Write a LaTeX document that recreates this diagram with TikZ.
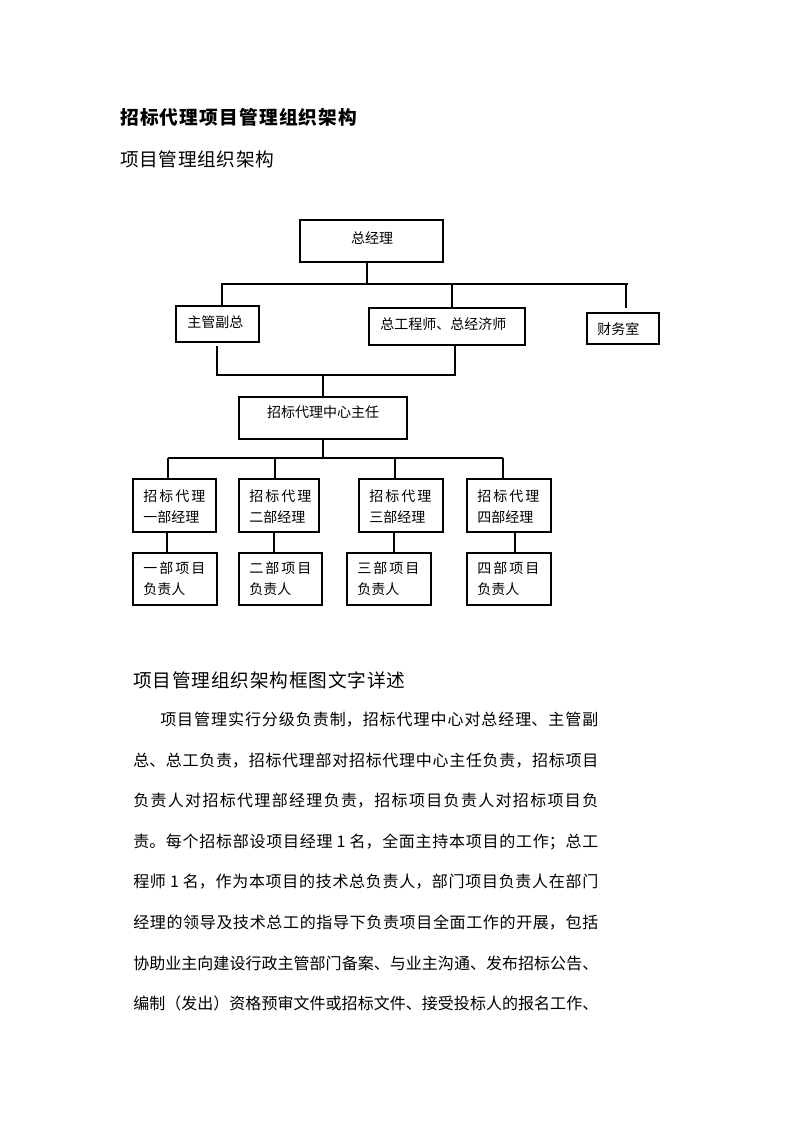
\documentclass[tikz,border=0pt]{standalone}
\usepackage{fontspec}
\setmainfont{Noto Sans CJK SC}
\XeTeXlinebreaklocale "zh"
\XeTeXlinebreakskip=0pt plus 2pt minus 0.5pt
\tolerance=10000
\tikzset{
  boxs/.style={draw, line width=0.8pt, inner sep=0pt, rectangle},
  conn/.style={draw, line width=0.8pt},
  txt/.style={inner sep=0pt, font=\fontsize{10.5pt}{15pt}\selectfont},
  twoline/.style={inner sep=0pt, anchor=north west, align=justify, text width=46.5pt, font=\fontsize{10.5pt}{15.5pt}\selectfont},
  bodyl/.style={inner sep=0pt, anchor=west, align=justify, font=\fontsize{12pt}{14pt}\selectfont},
  headl/.style={inner sep=0pt, anchor=west, align=justify, font=\fontsize{14pt}{16pt}\selectfont}
}
\newcommand\mybox[5]{\node[boxs, minimum width={(#4-#2)*0.75pt}, minimum height={(#5-#3)*0.75pt}] (#1) at ({(#2+#4)/2},{(#3+#5)/2}) {};}
\newcommand\jline{\parindent0pt\parfillskip0pt\relax}
\begin{document}
\begin{tikzpicture}[x=0.75pt,y=-0.75pt]
\useasboundingbox[fill=white] (0,0) rectangle (793,1122);

% titles
\node[headl, text width=177.75pt, font=\fontsize{14pt}{16pt}\selectfont\bfseries] (title) at (120,117) {\jline 招标代理项目管理组织架构\par};
\node[headl, text width=115.5pt] (subtitle) at (120,159) {\jline 项目管理组织架构\par};

% boxes
\mybox{zjl}{300}{220}{443}{262}
\mybox{fz}{176}{306}{259}{342}
\mybox{zgcs}{369}{308}{525}{345}
\mybox{cws}{587}{313}{659}{344}
\mybox{zr}{239}{397}{407}{439}
\mybox{m1}{133}{479}{216}{532}
\mybox{m2}{239}{479}{319}{532}
\mybox{m3}{359}{479}{443}{532}
\mybox{m4}{467}{479}{551}{532}
\mybox{p1}{133}{553}{217}{605}
\mybox{p2}{239}{553}{322}{605}
\mybox{p3}{347}{553}{431}{605}
\mybox{p4}{467}{553}{551}{605}

% box texts
\node[txt] (tzjl) at (372,238) {总经理};
\node[txt, anchor=west] (tfz) at (187,322) {主管副总};
\node[txt, anchor=west] (tzgcs) at (380,324) {总工程师、总经济师};
\node[txt, anchor=west] (tcws) at (597,329) {财务室};
\node[txt] (tzr) at (323,412) {招标代理中心主任};

\node[twoline] (tm1) at (143,489.5) {招标代理一部经理};
\node[twoline] (tm2) at (249,489.5) {招标代理二部经理};
\node[twoline] (tm3) at (369,489.5) {招标代理三部经理};
\node[twoline] (tm4) at (477,489.5) {招标代理四部经理};

\node[twoline] (tp1) at (143,561.5) {一部项目负责人};
\node[twoline] (tp2) at (249,561.5) {二部项目负责人};
\node[twoline] (tp3) at (357,561.5) {三部项目负责人};
\node[twoline] (tp4) at (477,561.5) {四部项目负责人};

% connectors, top level
\coordinate (j0) at (367,284);
\coordinate (barL) at (221,284);
\coordinate (barR) at (628,284);
\coordinate (b1) at (222,284);
\coordinate (b2) at (452,284);
\coordinate (b3) at (626,284);
\draw[conn] (j0 |- zjl.south) -- (j0);
\draw[conn] (barL) -- (barR);
\draw[conn] (b1) -- (b1 |- fz.north);
\draw[conn] (b2) -- (b2 |- zgcs.north);
\draw[conn, shorten >=3pt] (b3) -- (b3 |- cws.north);

% middle
\coordinate (mL) at (217,375);
\coordinate (mR) at (455,375);
\coordinate (mC) at (323,375);
\draw[conn, shorten <=2.5pt] (mL |- fz.south) -- (mL) -- (mR) -- (mR |- zgcs.south);
\draw[conn] (mC) -- (mC |- zr.north);

% lower bar
\coordinate (lb) at (323,458);
\coordinate (lbL) at (168,458);
\coordinate (lbR) at (503,458);
\coordinate (c1) at (168,458);
\coordinate (c2) at (275,458);
\coordinate (c3) at (395,458);
\coordinate (c4) at (503,458);
\draw[conn] (zr.south) -- (lb);
\draw[conn] (lbL) -- (lbR);
\draw[conn] (c1) -- (c1 |- m1.north);
\draw[conn] (c2) -- (c2 |- m2.north);
\draw[conn] (c3) -- (c3 |- m3.north);
\draw[conn] (c4) -- (c4 |- m4.north);

% manager to project
\coordinate (d1) at (167,540);
\coordinate (d2) at (274,540);
\coordinate (d3) at (394,540);
\coordinate (d4) at (515,540);
\draw[conn] (d1 |- m1.south) -- (d1 |- p1.north);
\draw[conn] (d2 |- m2.south) -- (d2 |- p2.north);
\draw[conn] (d3 |- m3.south) -- (d3 |- p3.north);
\draw[conn] (d4 |- m4.south) -- (d4 |- p4.north);

% text section
\node[headl, text width=204pt] (head2) at (133,680) {\jline 项目管理组织架构框图文字详述\par};

\node[bodyl, text width=328.5pt] (l1) at (160,720) {\jline 项目管理实行分级负责制，招标代理中心对总经理、主管副\par};
\node[bodyl, text width=348.75pt] (l2) at (133,760.5) {\jline 总、总工负责，招标代理部对招标代理中心主任负责，招标项目\par};
\node[bodyl, text width=348.75pt] (l3) at (133,801) {\jline 负责人对招标代理部经理负责，招标项目负责人对招标项目负\par};
\node[bodyl, text width=348.75pt] (l4) at (133,841.5) {\jline 责。每个招标部设项目经理 1 名，全面主持本项目的工作；总工\par};
\node[bodyl, text width=348.75pt] (l5) at (133,882) {\jline 程师 1 名，作为本项目的技术总负责人，部门项目负责人在部门\par};
\node[bodyl, text width=348.75pt] (l6) at (133,922.5) {\jline 经理的领导及技术总工的指导下负责项目全面工作的开展，包括\par};
\node[bodyl, text width=348.75pt] (l7) at (133,963) {\jline 协助业主向建设行政主管部门备案、与业主沟通、发布招标公告、\par};
\node[bodyl, text width=348.75pt] (l8) at (133,1003.5) {\jline 编制（发出）资格预审文件或招标文件、接受投标人的报名工作、\par};
\end{tikzpicture}
\end{document}
